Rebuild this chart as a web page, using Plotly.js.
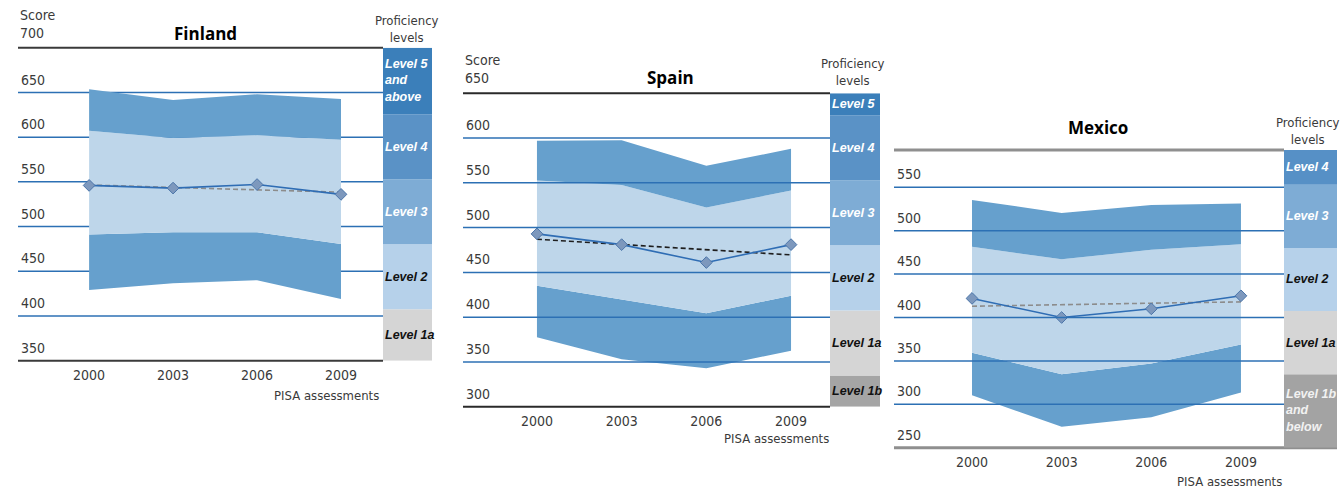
<!DOCTYPE html>
<html>
<head>
<meta charset="utf-8">
<script src="https://cdn.plot.ly/plotly-3.0.1.min.js"></script>
<style>html,body{margin:0;padding:0;background:#fff;}#chart{width:1344px;height:489px;}</style>
</head>
<body>
<div id="chart"></div>
<script>
// ---------- data ----------
const years = [2000, 2003, 2006, 2009];

// Finland
const fiP95 = [653.5, 641.5, 648, 642.5];
const fiP75 = [607, 599, 602, 597];
const fiMean = [546, 543, 547, 536];
const fiTrend = [546.5, 543.5, 541, 538.5];
const fiP25 = [491, 493.5, 493.5, 480.5];
const fiP5 = [429, 436.5, 440, 419];
const fiTicks = [350, 400, 450, 500, 550, 600, 650];
const fiTop = 700;

// Spain
const esP95 = [597, 597.5, 569, 588];
const esP75 = [552.5, 547.5, 522.5, 541.5];
const esMean = [493, 481, 461, 481];
const esTrend = [487, 481, 475, 469.5];
const esP25 = [435, 419.5, 404.5, 424];
const esP5 = [377.5, 353, 343, 362.5];
const esTicks = [300, 350, 400, 450, 500, 550, 600];
const esTop = 650;

// Mexico
const mxP95 = [535.5, 520.5, 529.5, 531.5];
const mxP75 = [481.5, 467, 478, 484.5];
const mxMean = [422, 400, 410, 425];
const mxTrend = [413, 415, 416.5, 418];
const mxP25 = [359.5, 334.5, 347, 369];
const mxP5 = [310.5, 274, 285, 313.5];
const mxTicks = [250, 300, 350, 400, 450, 500, 550];
const mxTop = 600;

// proficiency levels (lower bound, upper bound, label) per panel
const fiLevelNames = ['Level 1a', 'Level 2', 'Level 3', 'Level 4', 'Level 5<br>and<br>above'];
const fiLevelLo = [350, 407.47, 480.18, 552.89, 625.61];
const fiLevelHi = [407.47, 480.18, 552.89, 625.61, 700];
const fiLevelKeys = ['1a', '2', '3', '4', '5'];

const esLevelNames = ['Level 1b', 'Level 1a', 'Level 2', 'Level 3', 'Level 4', 'Level 5'];
const esLevelLo = [300, 334.75, 407.47, 480.18, 552.89, 625.61];
const esLevelHi = [334.75, 407.47, 480.18, 552.89, 625.61, 650];
const esLevelKeys = ['1b', '1a', '2', '3', '4', '5'];

const mxLevelNames = ['Level 1b<br>and<br>below', 'Level 1a', 'Level 2', 'Level 3', 'Level 4'];
const mxLevelLo = [250, 334.75, 407.47, 480.18, 552.89];
const mxLevelHi = [334.75, 407.47, 480.18, 552.89, 593];
const mxLevelKeys = ['1bw', '1a', '2', '3', '4m'];

// ---------- styles ----------
const W = 1344, H = 489;
const px = v => v / W;
const py = v => 1 - v / H;
const levelFill = {'5': '#3b7fba', '4': '#5a92c6', '4m': '#5690c6', '3': '#7eacd5', '2': '#b6d1ea', '1a': '#d5d5d5', '1b': '#a5a5a5', '1bw': '#a3a3a3'};
const levelText = {'5': '#ffffff', '4': '#ffffff', '4m': '#ffffff', '3': '#ffffff', '2': '#111111', '1a': '#111111', '1b': '#111111', '1bw': '#f2f2f2'};
const darkBand = '#66a0cd';
const lightBand = '#bed6ea';
const gridBlue = '#2c70b4';
const FONT = '"DejaVu Sans Condensed", "Liberation Sans", sans-serif';
const LEVELFONT = '"Liberation Sans", Arial, sans-serif';
const labelColor = '#3a3a3a';

const panels = [
  {ax: '', p95: fiP95, p75: fiP75, mean: fiMean, trend: fiTrend, p25: fiP25, p5: fiP5, trendColor: '#8c8c8c',
   ticks: fiTicks, top: fiTop, yrange: [350, 700], xrange: [1997.46, 2010.5], xdom: [18, 383], ydom: [47.7, 360.7],
   bar: [383, 432], names: fiLevelNames, lo: fiLevelLo, hi: fiLevelHi, keys: fiLevelKeys,
   title: 'Finland', titlePos: [205, 33], profPos: [407, 29], pisaPos: [381, 395], gridAbove: false,
   topColor: '#3a3a3a', topWidth: 2, botColor: '#3a3a3a', botWidth: 2, botRight: 383},
  {ax: '2', p95: esP95, p75: esP75, mean: esMean, trend: esTrend, p25: esP25, p5: esP5, trendColor: '#1e1e1e',
   ticks: esTicks, top: esTop, yrange: [300, 650], xrange: [1997.38, 2010.38], xdom: [463, 830], ydom: [93.3, 406.7],
   bar: [830, 880], names: esLevelNames, lo: esLevelLo, hi: esLevelHi, keys: esLevelKeys,
   title: 'Spain', titlePos: [670, 77], profPos: [853, 72], pisaPos: [831, 438], gridAbove: true,
   topColor: '#2a2a2a', topWidth: 2, botColor: '#2a2a2a', botWidth: 2, botRight: 830},
  {ax: '3', p95: mxP95, p75: mxP75, mean: mxMean, trend: mxTrend, p25: mxP25, p5: mxP5, trendColor: '#8c8c8c',
   ticks: mxTicks, top: mxTop, yrange: [250, 593], xrange: [1997.39, 2010.44], xdom: [894, 1284], ydom: [150, 447.7],
   bar: [1284, 1337], names: mxLevelNames, lo: mxLevelLo, hi: mxLevelHi, keys: mxLevelKeys,
   title: 'Mexico', titlePos: [1098, 128], profPos: [1308, 131], pisaPos: [1284, 481], gridAbove: true,
   topColor: '#8f8f8f', topWidth: 3, botColor: '#8f8f8f', botWidth: 3, botRight: 1337}
];

const traces = [];
const shapes = [];
const annotations = [];
const layout = {
  width: W, height: H, margin: {l: 0, r: 0, t: 0, b: 0},
  paper_bgcolor: '#ffffff', plot_bgcolor: 'rgba(0,0,0,0)',
  showlegend: false, font: {family: FONT, color: labelColor, size: 14}
};

panels.forEach(p => {
  const xa = 'x' + p.ax, ya = 'y' + p.ax;
  const base = {x: years, xaxis: xa, yaxis: ya, hoverinfo: 'skip', mode: 'lines', line: {width: 0}};
  traces.push(Object.assign({}, base, {y: p.p5}));
  traces.push(Object.assign({}, base, {y: p.p25, fill: 'tonexty', fillcolor: darkBand}));
  traces.push(Object.assign({}, base, {y: p.p75, fill: 'tonexty', fillcolor: lightBand}));
  traces.push(Object.assign({}, base, {y: p.p95, fill: 'tonexty', fillcolor: darkBand}));
  traces.push(Object.assign({}, base, {y: p.trend, line: {width: 1.6, color: p.trendColor, dash: '5px,3px'}}));
  traces.push(Object.assign({}, base, {y: p.mean, mode: 'lines+markers',
    line: {width: 1.6, color: '#2f6db4'},
    marker: {symbol: 'diamond', size: 9, color: '#7d98bd', line: {color: '#4c76aa', width: 1}}}));

  layout['xaxis' + p.ax] = {
    domain: [px(p.xdom[0]), px(p.xdom[1])], range: p.xrange, anchor: ya,
    tickvals: years, ticktext: years.map(String), ticks: '', showgrid: false, zeroline: false, showline: false,
    tickfont: {family: FONT, size: 14, color: labelColor}, ticklabelstandoff: 4, fixedrange: true
  };
  layout['yaxis' + p.ax] = {
    domain: [py(p.ydom[1]), py(p.ydom[0])], range: p.yrange, anchor: xa,
    tickvals: p.ticks, ticktext: p.ticks.map(String), ticks: '', showgrid: false, zeroline: false, showline: false,
    ticklabelposition: 'inside top', ticklabelshift: -3,
    tickfont: {family: FONT, size: 14, color: labelColor}, fixedrange: true
  };

  // grid lines (blue), at the tick values inside the range
  p.ticks.filter(v => v > p.yrange[0]).forEach(v => {
    shapes.push({type: 'line', xref: xa + ' domain', yref: ya, x0: 0, x1: 1, y0: v, y1: v,
      line: {color: gridBlue, width: 1.5}, layer: p.gridAbove ? 'above' : 'below'});
  });
  // top and bottom axis lines
  shapes.push({type: 'line', xref: xa + ' domain', yref: ya + ' domain', x0: 0, x1: 1, y0: 1, y1: 1,
    line: {color: p.topColor, width: p.topWidth}, layer: 'above'});
  shapes.push({type: 'line', xref: 'paper', yref: ya + ' domain', x0: px(p.xdom[0]), x1: px(p.botRight), y0: 0, y1: 0,
    line: {color: p.botColor, width: p.botWidth}, layer: 'above'});

  // proficiency level column
  p.names.forEach((name, i) => {
    const k = p.keys[i];
    shapes.push({type: 'rect', xref: 'paper', yref: ya, x0: px(p.bar[0]), x1: px(p.bar[1]),
      y0: p.lo[i], y1: p.hi[i], fillcolor: levelFill[k], line: {width: 0}, layer: 'above'});
    annotations.push({xref: 'paper', yref: ya, x: px(p.bar[0] + 1), y: (p.lo[i] + p.hi[i]) / 2,
      xanchor: 'left', yanchor: 'middle', align: 'left', showarrow: false, text: name, borderpad: 0,
      font: {family: LEVELFONT, size: 12.5, color: levelText[k], weight: 'bold', style: 'italic'}});
  });

  // "Score" + top value
  annotations.push({xref: 'paper', yref: ya, x: px(p.xdom[0]), y: p.top, xanchor: 'left', yanchor: 'bottom',
    align: 'left', showarrow: false, text: 'Score<br>' + p.top, yshift: 5,
    font: {family: FONT, size: 14, color: labelColor}});
  // title
  annotations.push({xref: 'paper', yref: 'paper', x: px(p.titlePos[0]), y: py(p.titlePos[1]),
    xanchor: 'center', yanchor: 'middle', showarrow: false, text: p.title,
    font: {family: '"Open Sans", sans-serif', size: 17, color: '#000', weight: 700}});
  // Proficiency levels header
  annotations.push({xref: 'paper', yref: 'paper', x: px(p.profPos[0]), y: py(p.profPos[1]),
    xanchor: 'center', yanchor: 'middle', align: 'center', showarrow: false, text: 'Proficiency<br>levels',
    font: {family: FONT, size: 13, color: labelColor}});
  // PISA assessments
  annotations.push({xref: 'paper', yref: 'paper', x: px(p.pisaPos[0]), y: py(p.pisaPos[1]),
    xanchor: 'right', yanchor: 'middle', showarrow: false, text: 'PISA assessments',
    font: {family: FONT, size: 13, color: labelColor}});
});

layout.shapes = shapes;
layout.annotations = annotations;

Plotly.newPlot('chart', traces, layout, {staticPlot: true, displayModeBar: false});
</script>
</body>
</html>
